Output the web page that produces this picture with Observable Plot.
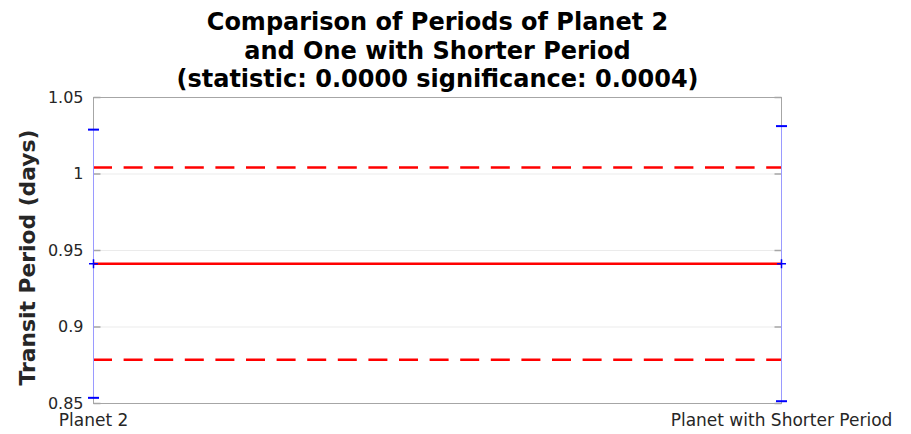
<!DOCTYPE html>
<html><head><meta charset="utf-8">
<script src="https://cdn.jsdelivr.net/npm/d3@7"></script>
<script src="https://cdn.jsdelivr.net/npm/@observablehq/plot@0.6"></script>
<style>body{margin:0;background:#fff;}</style>
</head><body><div id="chart"></div>
<script>
const categories = ["Planet 2", "Planet with Shorter Period"];
const centers = [0.9413, 0.9413];
const upper = [1.029, 1.0313];
const lower = [0.8537, 0.8515];
const meanLine = [0.9413];
const boundLines = [1.0042, 0.8786];
const yTicks = [0.85, 0.9, 0.95, 1, 1.05];
const titleLines = ["Comparison of Periods of Planet 2", "and One with Shorter Period", "(statistic: 0.0000 significance: 0.0004)"];
const yLabel = "Transit Period (days)";

const bars = categories.map((c, i) => ({cat: c, center: centers[i], hi: upper[i], lo: lower[i]}));

function hline(w) { return {draw(ctx) { ctx.moveTo(-w / 2, 0); ctx.lineTo(w / 2, 0); }}; }
function hspike(len) { return {draw(ctx) { ctx.moveTo(0, 0); ctx.lineTo(len, 0); }}; }

const axisGray = "#a6a6a6";
const chart = Plot.plot({
  width: 911,
  height: 434,
  marginLeft: 93,
  marginRight: 130,
  marginTop: 97,
  marginBottom: 31,
  style: {fontFamily: "DejaVu Sans", fontSize: "16px", color: "#262626", background: "white"},
  x: {type: "point", domain: categories, padding: 0},
  y: {domain: [0.85, 1.05]},
  marks: [
    Plot.gridY(yTicks, {stroke: "#ebebeb", strokeOpacity: 1}),
    Plot.frame({stroke: axisGray}),
    Plot.dot(yTicks, {x: () => categories[0], y: d => d, symbol: hspike(7), stroke: axisGray, fill: "none"}),
    Plot.dot(yTicks, {x: () => categories[1], y: d => d, symbol: hspike(-7), stroke: axisGray, fill: "none"}),
    Plot.axisY(yTicks, {tickSize: 0, tickPadding: 10, tickFormat: d => String(d), label: null, fontSize: 16}),
    Plot.axisX({tickSize: 0, tickPadding: 10, label: null, fontSize: 17}),
    Plot.ruleY(meanLine, {stroke: "red", strokeWidth: 2.5}),
    Plot.ruleY(boundLines, {stroke: "red", strokeWidth: 2.5, strokeDasharray: "19,11.6"}),
    Plot.ruleX(bars, {x: "cat", y1: "lo", y2: "hi", stroke: "#9a9aff", strokeWidth: 1}),
    Plot.dot(bars, {x: "cat", y: "hi", symbol: hline(11), stroke: "blue", strokeWidth: 2, fill: "none"}),
    Plot.dot(bars, {x: "cat", y: "lo", symbol: hline(11), stroke: "blue", strokeWidth: 2, fill: "none"}),
    Plot.dot(bars, {x: "cat", y: "center", symbol: "plus", r: 3, stroke: "blue", strokeWidth: 1.5}),
    Plot.text([titleLines.join("\n")], {frameAnchor: "top", dy: -11, lineAnchor: "bottom", lineHeight: 1.167, fontSize: 24, fontWeight: "bold", fill: "black"}),
    Plot.text([yLabel], {frameAnchor: "left", textAnchor: "middle", rotate: -90, dx: -65, dy: 7, fontSize: 21.8, fontWeight: "bold", fill: "#262626"})
  ]
});
document.getElementById("chart").append(chart);
</script>
</body></html>
